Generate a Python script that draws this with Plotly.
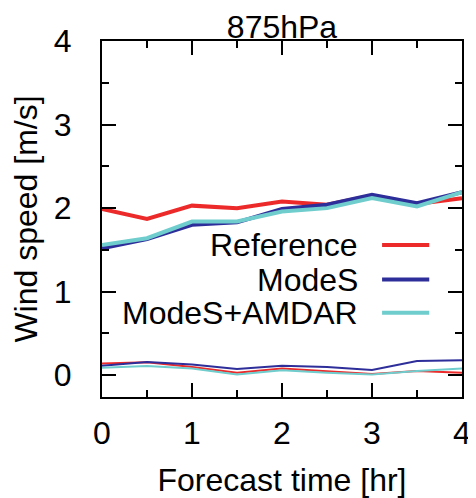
import plotly.graph_objects as go

# forecast hours
hours = [0, 0.5, 1, 1.5, 2, 2.5, 3, 3.5, 4]

series_names = ["Reference", "ModeS", "ModeS+AMDAR"]
series_colors = ["#ec2a2a", "#2e2e9a", "#70cdcd"]

# upper curves (thick)
upper_reference = [1.99, 1.87, 2.03, 2.00, 2.08, 2.04, 2.15, 2.05, 2.12]
upper_modes = [1.52, 1.63, 1.80, 1.83, 1.99, 2.04, 2.16, 2.06, 2.19]
upper_modes_amdar = [1.56, 1.64, 1.84, 1.84, 1.96, 2.00, 2.12, 2.02, 2.19]

# lower curves (thin)
lower_reference = [0.14, 0.155, 0.10, 0.03, 0.08, 0.05, 0.015, 0.05, 0.03]
lower_modes = [0.115, 0.16, 0.13, 0.075, 0.115, 0.10, 0.063, 0.17, 0.18]
lower_modes_amdar = [0.09, 0.11, 0.08, 0.01, 0.06, 0.03, 0.01, 0.05, 0.08]

upper = [upper_reference, upper_modes, upper_modes_amdar]
lower = [lower_reference, lower_modes, lower_modes_amdar]

FONT = "Liberation Sans, Arial, Helvetica, sans-serif"

fig = go.Figure()

for name, color, vals in zip(series_names, series_colors, lower):
    fig.add_trace(go.Scatter(x=hours, y=vals, mode="lines", name=name,
                             line=dict(color=color, width=2), showlegend=False))

for name, color, vals in zip(series_names, series_colors, upper):
    fig.add_trace(go.Scatter(x=hours, y=vals, mode="lines", name=name,
                             line=dict(color=color, width=4), showlegend=False))

# gnuplot-style key: right-aligned text followed by a line sample
key_y = [0.427, 0.33, 0.237]
for name, color, ky in zip(series_names, series_colors, key_y):
    fig.add_annotation(x=0.717, y=ky, xref="paper", yref="paper", text=name,
                       showarrow=False, xanchor="right", yanchor="middle",
                       font=dict(size=32, color="black", family=FONT))
    fig.add_shape(type="line", xref="paper", yref="paper",
                  x0=0.778, x1=0.909, y0=ky, y1=ky,
                  line=dict(color=color, width=4))

axis_common = dict(
    showline=True, linewidth=2, linecolor="black", mirror="allticks",
    ticks="inside", ticklen=14, tickwidth=2, tickcolor="black",
    showgrid=False, zeroline=False, automargin=False,
    tickfont=dict(size=32, color="black", family=FONT),
    minor=dict(ticks="inside", ticklen=7, tickwidth=2, tickcolor="black", dtick=0.5),
)

# page body adds an 8px margin, so the figure is a bit smaller than the window
fig.update_layout(
    width=468, height=490,
    margin=dict(l=94, r=14, t=33, b=101),
    paper_bgcolor="white", plot_bgcolor="white",
    title=dict(text="875hPa", x=0.5, xref="paper", y=0.962, yanchor="middle",
               font=dict(size=32, color="black", family=FONT)),
    xaxis=dict(axis_common, range=[0, 4], dtick=1, tick0=0,
               title=dict(text="Forecast time [hr]", standoff=25,
                          font=dict(size=32, color="black", family=FONT)),
               ticklabelstandoff=7),
    yaxis=dict(axis_common, range=[-0.26, 4], dtick=1, tick0=0,
               title=dict(text="Wind speed [m/s]", standoff=22,
                          font=dict(size=32, color="black", family=FONT)),
               ticklabelstandoff=22),
    showlegend=False,
)

fig.write_html("out.html")
